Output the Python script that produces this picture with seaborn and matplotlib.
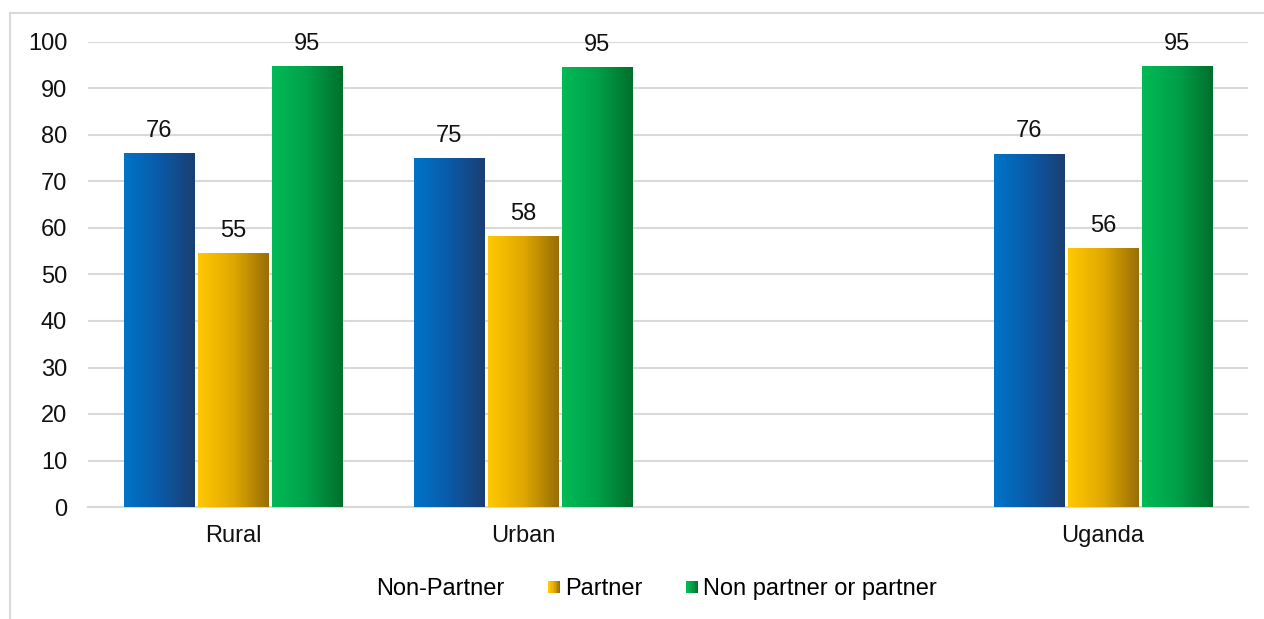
#!/usr/bin/env python3
# Rural / Urban / Uganda bars with gradient fills

import numpy as np
import pandas as pd
import seaborn as sns
import matplotlib.pyplot as plt
from matplotlib.colors import LinearSegmentedColormap
from matplotlib.patches import Rectangle
from matplotlib.legend_handler import HandlerBase

plt.rcParams['font.family'] = ['Liberation Sans', 'DejaVu Sans']

categories = ["Rural", "Urban", " ", "Uganda"]
places = ["Rural", "Urban", "Uganda"]
series = ["Non-Partner", "Partner", "Non partner or partner"]
non_partner = [76.2, 75.1, 76.0]
partner = [54.6, 58.3, 55.6]
either = [94.9, 94.7, 94.9]

grads = {
    "Non-Partner": ["#0074C8", "#0A5AA8", "#1A3F72"],
    "Partner": ["#FFC800", "#E0A800", "#9A6E06"],
    "Non partner or partner": ["#00BA55", "#00A048", "#00702C"],
}


class GradHandler(HandlerBase):
    def __init__(self, colors, show=True):
        super().__init__()
        self.cmap = LinearSegmentedColormap.from_list("g", colors)
        self.show = show

    def create_artists(self, legend, orig, x0, y0, w, h, fontsize, trans):
        n = 8
        s = w
        ys = y0 + (h - s) / 2
        if not self.show:
            return [Rectangle((x0, ys), s, s, fill=False, edgecolor="none", transform=trans)]
        arts = []
        for i in range(n):
            arts.append(Rectangle((x0 + i * s / n, ys), s / n + 0.2, s,
                                  facecolor=self.cmap(i / (n - 1)), edgecolor="none",
                                  transform=trans))
        return arts


df = pd.DataFrame({
    "place": places * 3,
    "series": sum([[s] * 3 for s in series], []),
    "value": non_partner + partner + either,
})

fig = plt.figure(figsize=(12.64, 6.19), dpi=100)
ax = fig.add_axes([88 / 1264, 1 - 507 / 619, 1160 / 1264, 465 / 619])

sns.barplot(data=df, x="place", y="value", hue="series", order=categories,
            hue_order=series, width=0.765, gap=0.05, ax=ax, legend=False,
            palette=[grads[s][1] for s in series])

# gradient fill on each bar
for cont, s in zip(ax.containers, series):
    cmap = LinearSegmentedColormap.from_list(s, grads[s])
    for p in cont.patches:
        x, y, w, h = p.get_x(), p.get_y(), p.get_width(), p.get_height()
        if np.isnan(h) or h == 0:
            continue
        p.set_edgecolor("none")
        im = ax.imshow(np.linspace(0, 1, 64).reshape(1, -1), cmap=cmap, aspect="auto",
                       extent=[x, x + w, y, y + h], zorder=3, interpolation="bicubic")
        im.set_clip_path(p)
    ax.bar_label(cont, fmt="%.0f", padding=8, fontsize=17, color="#111111")

ax.set_xlim(-0.5, 3.5)
ax.set_ylim(0, 100)
ax.set_yticks(range(0, 101, 10))
ax.yaxis.grid(True, color="#D9D9D9", linewidth=1.5)
ax.set_axisbelow(True)
for sp in ["top", "right", "left"]:
    ax.spines[sp].set_visible(False)
ax.spines["bottom"].set_color("#D9D9D9")
ax.spines["bottom"].set_linewidth(1.5)
ax.tick_params(axis="both", length=0, labelsize=17, colors="#111111")
ax.tick_params(axis="y", pad=15)
ax.tick_params(axis="x", pad=13)
ax.set_xlabel("")
ax.set_ylabel("")

handles = [Rectangle((0, 0), 1, 1) for _ in series]
hmap = {handles[0]: GradHandler(grads[series[0]], show=False),
        handles[1]: GradHandler(grads[series[1]]),
        handles[2]: GradHandler(grads[series[2]])}
fig.legend(handles, series, handler_map=hmap, loc="center", ncol=3,
           bbox_to_anchor=(648 / 1264, 1 - 589 / 619), frameon=False, fontsize=17,
           handlelength=0.51, handletextpad=0.21, columnspacing=1.85)

# chart-area border
fig.add_artist(Rectangle((10 / 1264, -0.1), 1.2, 1 - 13 / 619 + 0.1, transform=fig.transFigure,
                         fill=False, edgecolor="#D9D9D9", linewidth=1.5))

plt.savefig("out.png", dpi=100)
